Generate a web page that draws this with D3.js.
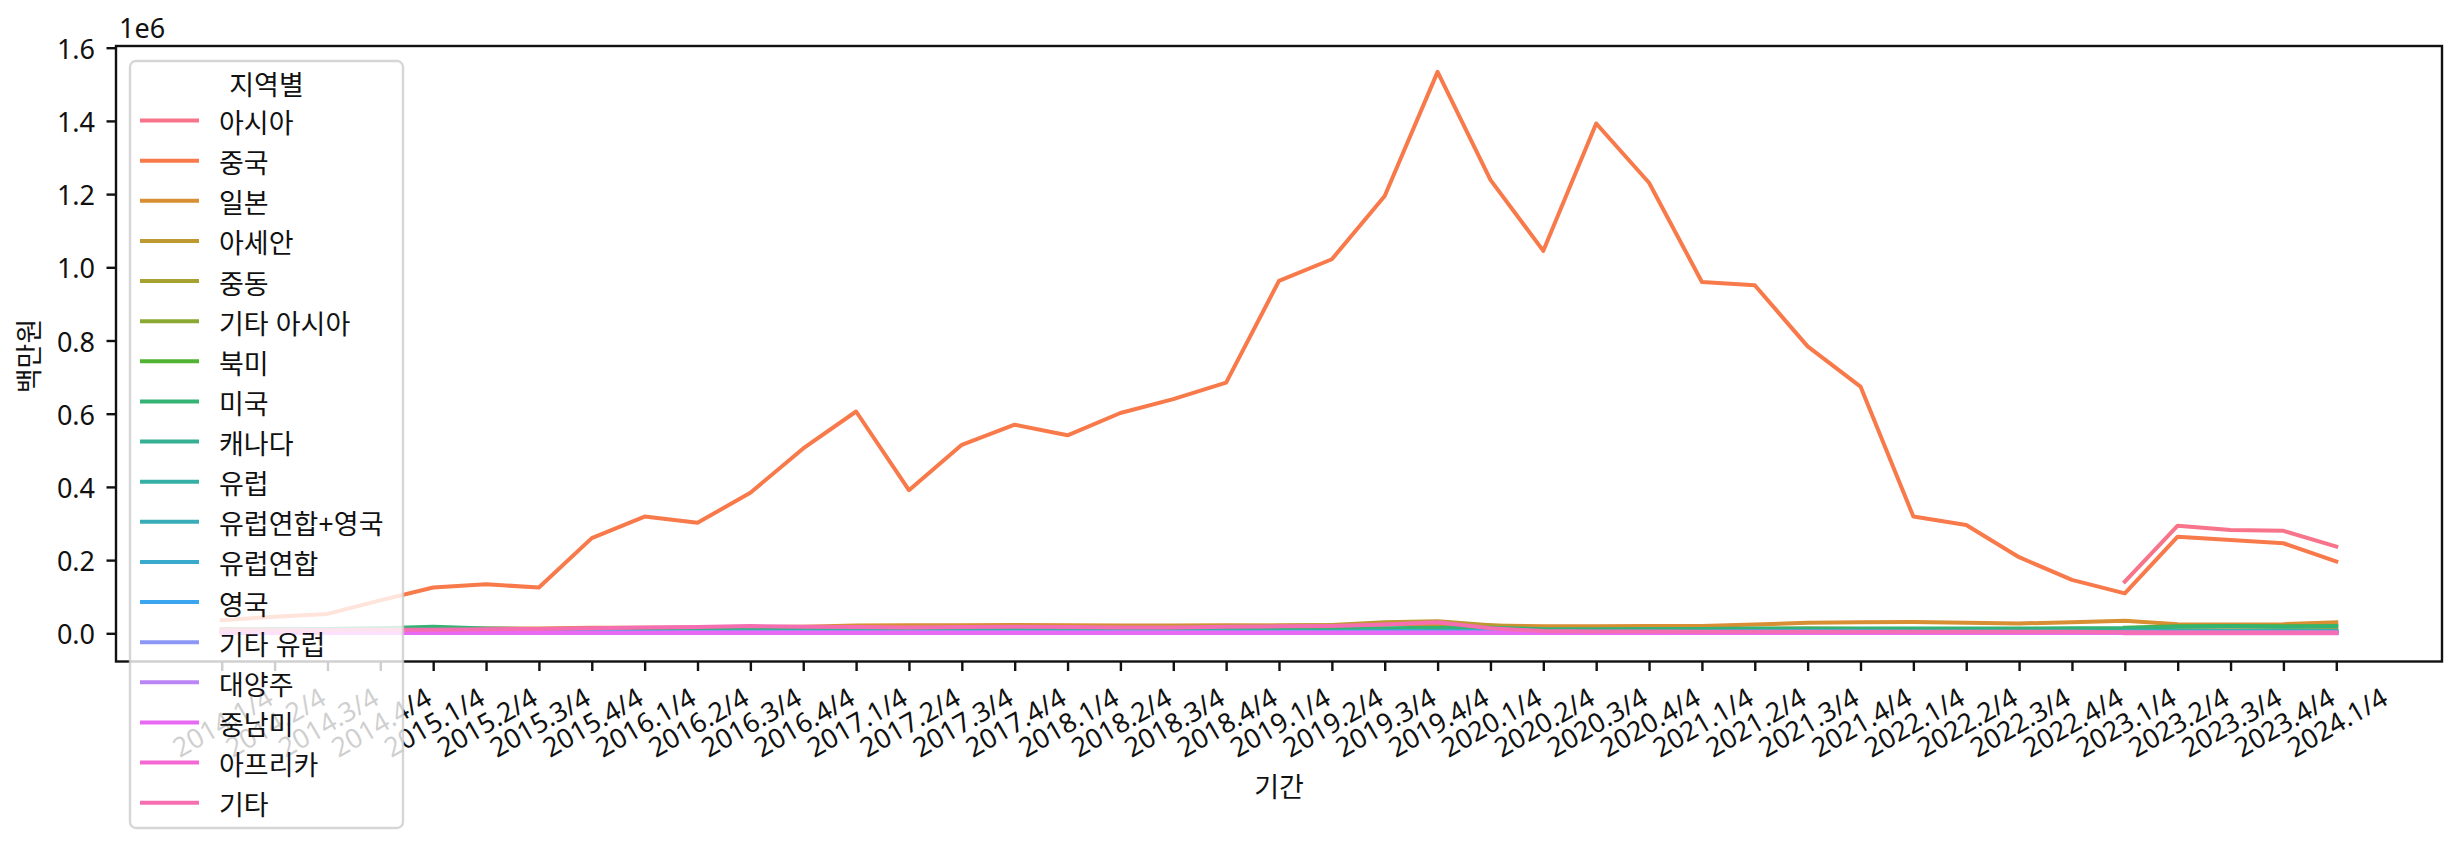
<!DOCTYPE html>
<html><head><meta charset="utf-8">
<script src="https://cdn.jsdelivr.net/npm/d3@7"></script>
<style>
body{margin:0;background:#fff}
text{font-family:"Noto Sans","Noto Sans CJK KR",sans-serif;fill:#111}
</style>
</head><body>
<svg id="c" width="2456" height="843"></svg>
<script>
const N = null;
const periods = ["2014.1/4","2014.2/4","2014.3/4","2014.4/4","2015.1/4","2015.2/4","2015.3/4","2015.4/4",
"2016.1/4","2016.2/4","2016.3/4","2016.4/4","2017.1/4","2017.2/4","2017.3/4","2017.4/4",
"2018.1/4","2018.2/4","2018.3/4","2018.4/4","2019.1/4","2019.2/4","2019.3/4","2019.4/4",
"2020.1/4","2020.2/4","2020.3/4","2020.4/4","2021.1/4","2021.2/4","2021.3/4","2021.4/4",
"2022.1/4","2022.2/4","2022.3/4","2022.4/4","2023.1/4","2023.2/4","2023.3/4","2023.4/4","2024.1/4"];
const regions = ["아시아","중국","일본","아세안","중동","기타 아시아","북미","미국","캐나다","유럽","유럽연합+영국","유럽연합","영국","기타 유럽","대양주","중남미","아프리카","기타"];
const yTicks = [0, 200000, 400000, 600000, 800000, 1000000, 1200000, 1400000, 1600000];
const yTickLabels = ["0.0","0.2","0.4","0.6","0.8","1.0","1.2","1.4","1.6"];
const pre = Array(36).fill(N);

const asia = pre.concat([141000, 294000, 282000, 280000, 237000]);
const china = [36000, 45000, 53000, 90000, 125000, 134000, 125000, 260000, 319000, 302000,
  384000, 505000, 606000, 391000, 515000, 570000, 541000, 602000, 640000, 685000,
  963000, 1022000, 1195000, 1534000, 1239000, 1045000, 1393000, 1231000, 960000, 951000,
  784000, 674000, 319000, 296000, 208000, 146000, 109000, 264000, 255000, 246000, 196000];
const japan = [12000, 11000, 12000, 13000, 14000, 13000, 13000, 15000, 15000, 16000,
  17000, 18000, 21000, 22000, 22000, 23000, 22000, 21000, 21000, 22000,
  21000, 22000, 25000, 26000, 21000, 19000, 19000, 20000, 20000, 24000,
  29000, 30000, 31000, 29000, 27000, 30000, 34000, 25000, 24000, 25000, 30000];
const asean = [4000, 4000, 5000, 5000, 6000, 6000, 7000, 8000, 9000, 9000,
  10000, 12000, 14000, 15000, 17000, 18000, 17000, 17000, 18000, 20000,
  21000, 23000, 30000, 33000, 22000, 12000, 10000, 11000, 11000, 12000,
  13000, 12000, 12000, 11000, 10000, 10000, 9000, 8000, 8000, 8000, 9000];
const middleEast = [1000, 1000, 1000, 1000, 1000, 1000, 1000, 1000, 1000, 1000,
  1000, 1000, 1000, 1000, 1000, 1000, 1000, 1000, 1000, 1000,
  1000, 1000, 2000, 2000, 1000, 1000, 1000, 1000, 1000, 1000,
  1000, 1000, 1000, 1000, 1000, 1000, 1000, 1000, 1000, 1000, 1000];
const otherAsia = pre.concat([5000, 5000, 5000, 5000, 5000]);
const northAmerica = pre.concat([15000, 19000, 20000, 19000, 20000]);
const usa = [10000, 11000, 12000, 14000, 18000, 13000, 11000, 11000, 11000, 11000,
  12000, 12000, 13000, 12000, 12000, 12000, 12000, 12000, 12000, 13000,
  13000, 13000, 14000, 15000, 15000, 11000, 11000, 12000, 12000, 13000,
  13000, 13000, 13000, 13000, 13000, 14000, 14000, 18000, 19000, 18000, 19000];
const canada = pre.concat([1000, 1000, 1000, 1000, 1000]);
const europe = pre.concat([6000, 6000, 6000, 6000, 6000]);
const euUk = pre.concat([5000, 5000, 5000, 5000, 5000]);
const eu = [3000, 3000, 3000, 3000, 4000, 4000, 4000, 4000, 4000, 4000,
  5000, 5000, 5000, 5000, 5000, 5000, 5000, 5000, 5000, 5000,
  5000, 5000, 6000, 6000, 6000, 5000, 5000, 5000, 5000, 6000,
  6000, 6000, 5000, 5000, 5000, 5000, 4000, 4000, 4000, 4000, 4000];
const uk = pre.concat([1000, 1000, 1000, 1000, 1000]);
const otherEurope = pre.concat([1000, 1000, 1000, 1000, 1000]);
const oceania = [2000, 2000, 2000, 2000, 2000, 2000, 2000, 2000, 2000, 3000,
  3000, 3000, 3000, 3000, 3000, 3000, 3000, 3000, 3000, 3000,
  3000, 3000, 3000, 3000, 3000, 2000, 2000, 2000, 2000, 2000,
  2000, 2000, 2000, 2000, 2000, 2000, 2000, 2000, 2000, 2000, 2000];
const latinAmerica = [500, 500, 500, 500, 500, 500, 500, 500, 500, 500,
  800, 800, 800, 800, 800, 800, 800, 800, 800, 800,
  800, 800, 1000, 1000, 800, 500, 500, 500, 500, 500,
  500, 500, 500, 500, 500, 500, 500, 500, 500, 500, 500];
const africa = pre.concat([300, 300, 300, 300, 300]);
const other = [8000, 8000, 9000, 10000, 10000, 11000, 12000, 14000, 16000, 17000,
  20000, 18000, 17000, 16000, 17000, 18000, 17000, 16000, 16000, 18000,
  19000, 20000, 24000, 30000, 14000, 6000, 5000, 5000, 4000, 4000,
  4000, 4000, 4000, 4000, 4000, 4000, 3000, 2000, 2000, 2000, 2000];

const seriesValues = [asia, china, japan, asean, middleEast, otherAsia, northAmerica, usa, canada,
  europe, euUk, eu, uk, otherEurope, oceania, latinAmerica, africa, other];

// ---- seaborn husl palette ----
const M = [[3.2406,-1.5372,-0.4986],[-0.9689,1.8758,0.0415],[0.0557,-0.2040,1.0570]];
const refU = 0.19784, refV = 0.46834, labE = 0.008856, labK = 903.3;
function maxChroma(L, H) {
  const hrad = H / 360 * 2 * Math.PI, sinH = Math.sin(hrad), cosH = Math.cos(hrad);
  const sub1 = Math.pow(L + 16, 3) / 1560896;
  const sub2 = sub1 > 0.008856 ? sub1 : L / 903.3;
  let result = Infinity;
  for (const [m1, m2, m3] of M) {
    const top = (0.99915 * m1 + 1.05122 * m2 + 1.14460 * m3) * sub2;
    const rbottom = 0.86330 * m3 - 0.17266 * m2;
    const lbottom = 0.12949 * m3 - 0.38848 * m1;
    const bottom = (rbottom * sinH + lbottom * cosH) * sub2;
    for (const t of [0, 1]) {
      const C = L * (top - 1.05122 * t) / (bottom + 0.17266 * sinH * t);
      if (C > 0 && C < result) result = C;
    }
  }
  return result;
}
function huslToRgb(H, S, L) {
  const C = maxChroma(L, H) / 100 * S;
  const hrad = H / 360 * 2 * Math.PI;
  const U = Math.cos(hrad) * C, V = Math.sin(hrad) * C;
  const t = (L + 16) / 116;
  const varY = Math.pow(t, 3) > labE ? Math.pow(t, 3) : (116 * t - 16) / labK;
  const varU = U / (13 * L) + refU, varV = V / (13 * L) + refV;
  const Y = varY;
  const X = -(9 * Y * varU) / ((varU - 4) * varV - varU * varV);
  const Z = (9 * Y - 15 * varV * Y - varV * X) / (3 * varV);
  return M.map(r => {
    let c = r[0] * X + r[1] * Y + r[2] * Z;
    c = c <= 0.0031308 ? 12.92 * c : 1.055 * Math.pow(c, 1 / 2.4) - 0.055;
    return Math.max(0, Math.min(1, c));
  });
}
function huslPalette(n) {
  const out = [];
  for (let i = 0; i < n; i++) {
    const h = ((i / n + 0.01) % 1) * 359;
    const [r, g, b] = huslToRgb(h, 0.9 * 99, 65);
    out.push(d3.rgb(r * 255, g * 255, b * 255).formatHex());
  }
  return out;
}
const colors = huslPalette(regions.length);

// ---- layout ----
const L = 116, R = 2442, T = 46, B = 661.5;
const FS = 27, LW = 4, SPW = 2.4, TICK = 9.5;
const svg = d3.select("#c");
svg.append("rect").attr("width", 2456).attr("height", 843).attr("fill", "#fff");

const x = d3.scalePoint().domain(periods).range([L, R]).padding(2);
const y = d3.scaleLinear().domain([-77050, 1604650]).range([B, T]);

svg.append("defs").append("clipPath").attr("id", "clip")
  .append("rect").attr("x", L).attr("y", T).attr("width", R - L).attr("height", B - T);

const line = d3.line()
  .defined(d => d.v != null)
  .x(d => x(d.p)).y(d => y(d.v));

const gLines = svg.append("g").attr("clip-path", "url(#clip)");
seriesValues.forEach((vals, k) => {
  gLines.append("path")
    .datum(vals.map((v, i) => ({ p: periods[i], v })))
    .attr("d", line)
    .attr("fill", "none")
    .attr("stroke", colors[k])
    .attr("stroke-width", LW)
    .attr("stroke-linejoin", "round")
    .attr("stroke-linecap", "square");
});

// y axis
const yAxis = d3.axisLeft(y).tickValues(yTicks).tickSize(TICK).tickPadding(11.5)
  .tickFormat((d, i) => yTickLabels[i]);
const gy = svg.append("g").attr("transform", `translate(${L},0)`).call(yAxis);
gy.select(".domain").remove();
gy.selectAll(".tick line").attr("stroke", "#111").attr("stroke-width", SPW);
gy.selectAll(".tick text").attr("font-size", FS).attr("dy", null)
  .attr("dominant-baseline", "central").style("font-family", '"Noto Sans","Noto Sans CJK KR",sans-serif');

// x axis
const xAxis = d3.axisBottom(x).tickSize(TICK).tickPadding(0);
const gx = svg.append("g").attr("transform", `translate(0,${B})`).call(xAxis);
gx.select(".domain").remove();
gx.selectAll(".tick line").attr("stroke", "#111").attr("stroke-width", SPW);
gx.selectAll(".tick text")
  .attr("font-size", FS)
  .style("font-family", '"Noto Sans","Noto Sans CJK KR",sans-serif')
  .attr("y", 0).attr("dy", null)
  .attr("text-anchor", "middle")
  .attr("dominant-baseline", "central")
  .each(function () {
    const w = this.getComputedTextLength();
    const h = FS * 1.17;
    const a = 30 * Math.PI / 180;
    const H = w * Math.sin(a) + h * Math.cos(a);
    d3.select(this).attr("transform", `translate(0,${19 + H / 2}) rotate(-30)`);
  });

// spines
svg.append("rect").attr("x", L).attr("y", T).attr("width", R - L).attr("height", B - T)
  .attr("fill", "none").attr("stroke", "#111").attr("stroke-width", SPW);

// offset text and axis labels
svg.append("text").attr("x", 119).attr("y", 38).attr("font-size", FS).text("1e6");
svg.append("text").attr("transform", "translate(28,356) rotate(-90)")
  .attr("text-anchor", "middle").attr("dominant-baseline", "central")
  .attr("font-size", FS).text("백만원");
svg.append("text").attr("x", (L + R) / 2).attr("y", 786)
  .attr("text-anchor", "middle").attr("dominant-baseline", "central")
  .attr("font-size", FS).text("기간");

// legend
const lg = svg.append("g");
lg.append("rect").attr("x", 130).attr("y", 61).attr("width", 273).attr("height", 767)
  .attr("rx", 6).attr("ry", 6)
  .attr("fill", "#fff").attr("fill-opacity", 0.8)
  .attr("stroke", "#ccc").attr("stroke-opacity", 0.8).attr("stroke-width", SPW);
lg.append("text").attr("x", 266.5).attr("y", 84).attr("text-anchor", "middle")
  .attr("dominant-baseline", "central").attr("font-size", FS).text("지역별");
const rowY = d3.scaleLinear().domain([0, regions.length - 1]).range([120.5, 802.7]);
regions.forEach((name, k) => {
  const yy = rowY(k);
  lg.append("line").attr("x1", 140).attr("x2", 199).attr("y1", yy).attr("y2", yy)
    .attr("stroke", colors[k]).attr("stroke-width", LW);
  lg.append("text").attr("x", 219).attr("y", yy + 2).attr("dominant-baseline", "central")
    .attr("font-size", FS).text(name);
});
</script>
</body></html>
